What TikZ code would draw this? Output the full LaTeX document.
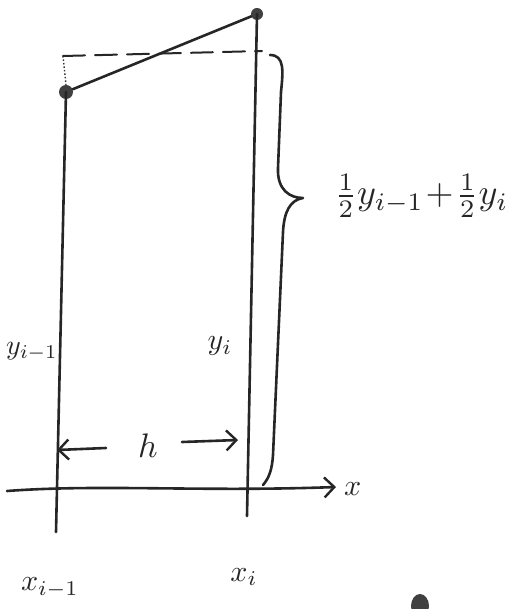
\documentclass[tikz,border=0pt]{standalone}
\usepackage{graphicx}
\usetikzlibrary{arrows.meta}
\newcommand{\bigtxt}[1]{\scalebox{3}{#1}}
\begin{document}
\begin{tikzpicture}[x=1pt,y=-1pt,
  ink/.style={line width=2.6pt,line cap=round,line join=round,draw=black!85},
  thin ink/.style={line width=1.4pt,draw=black!80},
  dot/.style={circle,fill=black!75,inner sep=0pt,minimum size=14pt},
  lbl/.style={text=black!85,inner sep=0pt},
  arr/.style={ink,-{Straight Barb[length=10pt,width=20pt,line width=2.4pt]}}]
\useasboundingbox (0,0) rectangle (518,609);
% points
\node[dot] (A) at (66,92) {};
\node[dot,minimum size=12pt] (B) at (257,14) {};
\coordinate (Atop) at (63,56);
\coordinate (Btop) at (262,51);
\coordinate (Abot) at (56,532);
\coordinate (Bbot) at (247,516);
\coordinate (ax0) at (7,491);
\coordinate (ax1) at (336,487);
% vertical lines
\draw[ink] (A.center) -- (Abot);
\draw[ink] (B.center) -- (Bbot);
\draw[thin ink,dash pattern=on 1.5pt off 2pt] (Atop) -- (A.north);
% dashed level line
\draw[ink,line width=2pt,dash pattern=on 22pt off 10pt] (Atop) -- (Btop);
% secant line
\draw[ink] (A) -- (B);
% x axis
\draw[arr] (ax0) .. controls (100,484) and (200,492) .. (ax1);
\node[lbl,anchor=west] (xl) at (344,489) {\bigtxt{$x$}};
% brace
\draw[ink] (270,55) .. controls (285,55) and (283,72) .. (281,92) -- (278,168)
  .. controls (277,190) and (290,198) .. (303,198)
  .. controls (290,200) and (284,212) .. (283,232) -- (273,455)
  .. controls (272,470) and (269,478) .. (263,485);
\node[lbl,anchor=west] (mid) at (334,196) {\scalebox{3.6}{$\frac12 y_{i-1}\!+\!\frac12 y_i$}};
% labels
\node[lbl,anchor=east] (yim) at (58,352) {\scalebox{2.8}{$y_{i-1}$}};
\node[lbl] (yi) at (220,346) {\bigtxt{$y_i$}};
\node[lbl] (h) at (148,446) {\scalebox{3.4}{$h$}};
\coordinate (hl) at (57,450);
\coordinate (hr) at (238,440);
\coordinate (hl0) at (106,448);
\coordinate (hr0) at (182,442);
\draw[arr] (hl0) -- (hl);
\draw[arr] (hr0) -- (hr);
\node[lbl] (xim) at (50,588) {\bigtxt{$x_{i-1}$}};
\node[lbl] (xi) at (244,577) {\bigtxt{$x_i$}};
% stray ink blot
\fill[black!75] (420,606) ellipse (9pt and 12pt);
\end{tikzpicture}
\end{document}
